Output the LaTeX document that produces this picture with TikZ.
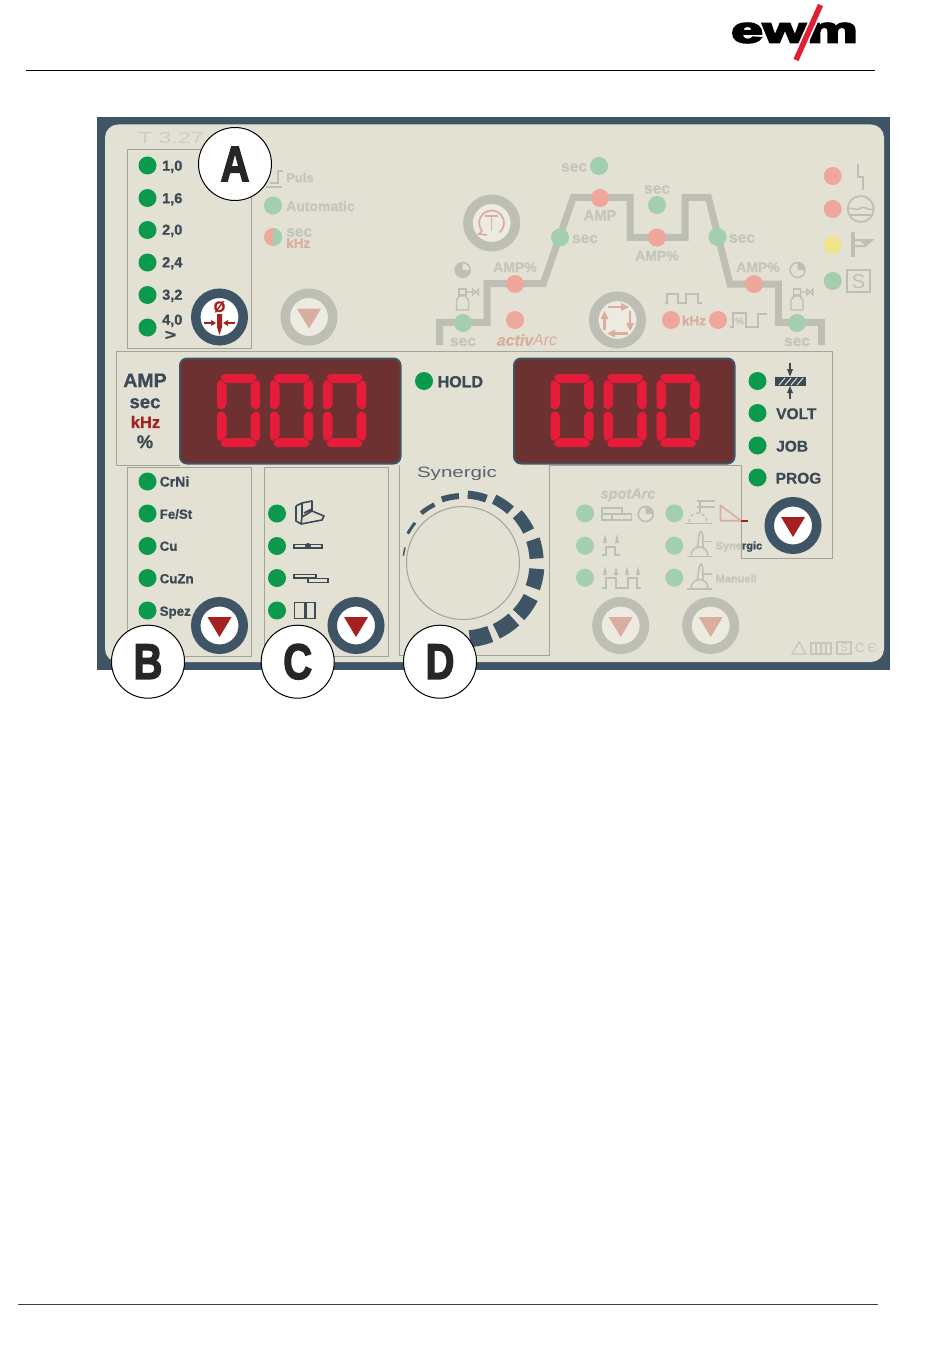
\documentclass[tikz,border=0pt]{standalone}
\usepackage{fontspec}
\setmainfont{Liberation Sans}[BoldFeatures={FakeBold=0.8},BoldItalicFeatures={FakeBold=0.5}]
\newfontfamily\heavy{Liberation Sans}[BoldFeatures={FakeBold=3}]
\newfontfamily\logofont{Liberation Sans}[BoldFeatures={FakeBold=5}]
\definecolor{slate}{HTML}{3F5565}
\definecolor{panel}{HTML}{E3E0D4}
\definecolor{boxl}{HTML}{A3A398}
\definecolor{ledg}{HTML}{0B9A4B}
\definecolor{fg}{HTML}{A3CFAE}
\definecolor{fr}{HTML}{EEA79A}
\definecolor{fy}{HTML}{EFE48C}
\definecolor{fd}{HTML}{BDBEB4}
\definecolor{ft}{HTML}{C4C5BB}
\definecolor{frt}{HTML}{D9AE9F}
\definecolor{btnf}{HTML}{EDEAE1}
\definecolor{ink}{HTML}{3C4A55}
\definecolor{dred}{HTML}{A5201E}
\definecolor{disp}{HTML}{6E3131}
\definecolor{segc}{HTML}{E51C3A}
\definecolor{logored}{HTML}{DF2034}
\newcounter{nd}
\newcommand\lab[6]{\stepcounter{nd}\node[anchor=#2,inner sep=0pt,text=#1,text height=#5*0.72pt,text depth=0pt,font=\bfseries\fontsize{#5}{#5}\selectfont] (t\arabic{nd}) at (#3,#4) {#6};}
\newcommand\led[3]{\stepcounter{nd}\node[circle,fill=#1,minimum size=18pt,inner sep=0pt] (l\arabic{nd}) at (#2,#3) {};}
\newcommand\btn[2]{\stepcounter{nd}\node[circle,draw=slate,line width=9.5pt,fill=white,minimum size=47.5pt,inner sep=0pt] (b\arabic{nd}) at (#1,#2) {};}
\newcommand\fbtn[2]{\stepcounter{nd}\node[circle,draw=fd,line width=9.5pt,fill=btnf,minimum size=47.5pt,inner sep=0pt] (b\arabic{nd}) at (#1,#2) {};}
\newcommand\tri[3]{\fill[#3] (#1-12,#2-8.5) -- (#1+12,#2-8.5) -- (#1,#2+11.5) -- cycle;}
\newcommand\callout[4]{\node[circle,draw=black,line width=1pt,fill=white,minimum size=73pt,inner sep=0pt,text=black!85,font=\heavy\bfseries\fontsize{50}{50}\selectfont] (#1) at (#2,#3) {\scalebox{0.8}[1]{#4}};}
\newcommand\digit[2]{\begin{scope}[shift={(#1,#2)},rounded corners=1.5pt]
\fill[segc] (6,0)--(37,0)--(40,3.5)--(35,9)--(8,9)--(3,3.5)--cycle;
\fill[segc] (6,73)--(37,73)--(40,69.5)--(35,64)--(8,64)--(3,69.5)--cycle;
\fill[segc] (0,8.5)--(3.5,5.5)--(9.5,10.5)--(9.5,31.5)--(5,36)--(0,33.5)--cycle;
\fill[segc] (0,39.5)--(5,37)--(9.5,41.5)--(9.5,62.5)--(3.5,67.5)--(0,64.5)--cycle;
\fill[segc] (43,8.5)--(39.5,5.5)--(33.5,10.5)--(33.5,31.5)--(38,36)--(43,33.5)--cycle;
\fill[segc] (43,39.5)--(38,37)--(33.5,41.5)--(33.5,62.5)--(39.5,67.5)--(43,64.5)--cycle;
\end{scope}}
\newcommand\bottle[2]{\begin{scope}[shift={(#1,#2)}]
\draw[fd,line width=1.4pt] (-6,0) -- (-6,-10) -- (-3,-14) -- (3,-14) -- (6,-10) -- (6,0) -- cycle;
\draw[fd,line width=1.8pt] (-3.5,-15) rectangle (3.5,-21);
\draw[fd,line width=1.3pt] (3.5,-18) -- (10,-18) (10,-21) -- (16,-15) -- (16,-21) -- (10,-15) -- cycle;
\end{scope}}
\newcommand\clockl[2]{\draw[fd,line width=1.5pt,fill=panel] (#1,#2) circle (7.5);\fill[fd] (#1,#2) -- (#1,#2-7.5) arc[start angle=270,end angle=-0,radius=7.5,delta angle=-270] -- cycle;}
\newcommand\clockr[2]{\draw[fd,line width=1.5pt,fill=panel] (#1,#2) circle (7.5);\fill[fd] (#1,#2) -- (#1+7.5,#2) arc[start angle=0,end angle=-90,radius=7.5] -- cycle;}
\newcommand\torch[2]{\begin{scope}[shift={(#1,#2)}]
\draw[fd,line width=1.8pt] (-1,0)--(24,0);
\draw[fd,line width=1.5pt] (3,-1) arc[start angle=180,end angle=360,radius=8.5];
\draw[fd,line width=1.5pt] (9,-8) .. controls (11,-16) and (10,-24) .. (13,-25) .. controls (15,-25) and (15,-18) .. (15,-8);
\draw[fd,line width=1.8pt] (15,-15)--(24,-15);
\end{scope}}
\begin{document}
\begin{tikzpicture}[x=1pt,y=-1pt,line join=miter]
\useasboundingbox (0,0) rectangle (950,1359);
\fill[white] (0,0) rectangle (950,1359);
% rules
\coordinate (hl) at (26,71); \coordinate (hr) at (875,71);
\coordinate (fl) at (18,1304.5); \coordinate (fr) at (878,1304.5);
\draw[black,line width=1pt] (hl) -- (hr);
\draw[black!75,line width=1.4pt] (fl) -- (fr);
% logo
\node[inner sep=0pt,text=black,font=\logofont\bfseries\fontsize{36}{36}\selectfont] (logo) at (794.5,33) {\scalebox{1.58}[1]{ewm}};
\draw[white,line width=9pt] (820.5,5) -- (796,60);
\draw[logored,line width=5.5pt] (820.5,5) -- (796,60);
% panel
\fill[slate] (97,117) rectangle (890,670);
\fill[panel,rounded corners=13pt] (105,124.5) rectangle (884,662);
\stepcounter{nd}\node[inner sep=0pt,text=ft!70!panel,font=\fontsize{16}{16}\selectfont] (model) at (171,137.5) {\scalebox{1.45}[1]{T 3.27}};
% group boxes
\begin{scope}[boxl,line width=0.9pt]
\draw (127.5,149) rectangle (251.5,348);
\draw (127.5,467) rectangle (251.5,656.5);
\draw (264,467) rectangle (388.5,656.5);
\draw (399,465) -- (399,655.5) -- (549.5,655.5) -- (549.5,465) -- (741,465) -- (741,558) -- (832.5,558) -- (832.5,351) -- (116,351) -- (116,465) -- (180,465);
\end{scope}
% displays
\draw[slate,line width=2pt,fill=disp,rounded corners=7pt] (180,358.5) rectangle (400.5,463.5);
\draw[slate,line width=2pt,fill=disp,rounded corners=7pt] (514,358.5) rectangle (734.5,463.5);
\digit{217}{374}\digit{270}{374}\digit{323}{374}
\digit{550.5}{374}\digit{603.5}{374}\digit{656.5}{374}
% A column
\led{ledg}{147.5}{165.5}\lab{ink}{west}{162}{165.5}{14.5}{1,0}
\led{ledg}{147.5}{198}\lab{ink}{west}{162}{198}{14.5}{1,6}
\led{ledg}{147.5}{230}\lab{ink}{west}{162}{229.5}{14.5}{2,0}
\led{ledg}{147.5}{262.5}\lab{ink}{west}{162}{262}{14.5}{2,4}
\led{ledg}{147.5}{295}\lab{ink}{west}{162}{294.5}{14.5}{3,2}
\led{ledg}{147.5}{327.5}\lab{ink}{west}{162}{319.5}{14.5}{4,0}
\lab{ink}{west}{164.5}{334.5}{15}{\scalebox{1.3}[1]{>}}
\btn{219.5}{317}
\lab{dred}{center}{219.5}{306.5}{15}{Ø}
\fill[dred] (217,314) -- (222,314) -- (222,327) -- (219.5,335) -- (217,327) -- cycle;
\draw[dred,line width=1.3pt] (204,323) -- (213,323) (226,323) -- (235,323);
\fill[dred] (216,323) -- (211,320) -- (211,326) -- cycle;
\fill[dred] (223,323) -- (228,320) -- (228,326) -- cycle;
% faded left column
\draw[fd,line width=1.4pt] (270,183) -- (278,183) -- (278,171) -- (283,171);
\draw[fd,line width=1.4pt] (266,187) -- (282,187);
\lab{ft}{west}{286}{177.5}{13}{Puls}
\led{fg}{273}{205.5}\lab{ft}{west}{286}{206}{14}{Automatic}
\led{fr}{273}{237}\fill[fg] (273,228) arc[start angle=-90,end angle=90,radius=9] -- cycle;
\lab{ft}{west}{286}{231}{15.5}{sec}\lab{frt}{west}{286}{243}{13.5}{kHz}
\fbtn{309}{317}\tri{309}{317}{frt}
% process curve
\draw[fd,line width=7pt] (439.5,345) -- (439.5,322.3) -- (487,322.3) -- (487,283.5) -- (543.3,283.5) -- (573.3,197.3) -- (630,197.3) -- (630,237.3) -- (685,237.3) -- (685,197.3) -- (708.3,197.3) -- (730,284) -- (778.3,284) -- (778.3,322.3) -- (821.7,322.3) -- (821.7,345);
\led{fg}{599}{166}\lab{ft}{center}{574}{166}{15.5}{sec}
\led{fr}{600}{198}\lab{ft}{center}{600}{215}{14.7}{AMP}
\led{fg}{657}{205}\lab{ft}{center}{657}{188}{15.5}{sec}
\led{fr}{657}{237.5}\lab{ft}{center}{657}{255.5}{14}{AMP\%}
\led{fg}{560}{237.5}\lab{ft}{center}{585}{237.5}{15.5}{sec}
\led{fg}{717.5}{237}\lab{ft}{center}{742}{237}{15.5}{sec}
\led{fr}{515}{284}\lab{ft}{center}{515}{267}{14}{AMP\%}
\led{fr}{754}{284}\lab{ft}{center}{758}{267}{14}{AMP\%}
\led{fg}{463}{323}\lab{ft}{center}{463}{340.5}{15.5}{sec}
\led{fg}{797}{323}\lab{ft}{center}{797}{340.5}{15.5}{sec}
\led{fr}{515}{320}
\stepcounter{nd}\node[inner sep=0pt,text=frt,font=\itshape\fontsize{16}{16}\selectfont] (activ) at (527,340) {\textbf{activ}Arc};
\led{fr}{671}{320}\lab{frt}{center}{694}{320.5}{13.5}{kHz}
\led{fr}{718}{320}
% clocks and bottles
\clockl{462.7}{270}\clockr{797.5}{270}
\bottle{462.5}{310}\bottle{797}{310}
% T button
\fbtn{491.7}{223}
\draw[frt,line width=1.7pt] (482,231) arc[start angle=140,delta angle=270,radius=12.5];
\draw[frt,line width=1.7pt] (482,231) -- (479,234) -- (487,235);
\draw[frt,line width=1.7pt] (485,216) -- (498,216) (491.5,216) -- (491.5,231);
% cycle button
\fbtn{617.5}{320}
\begin{scope}[frt,line width=2.6pt]
\draw (608,307) -- (622,307); \fill (629,307) -- (621,303) -- (621,311) -- cycle;
\draw (630,311) -- (630,324); \fill (630,331) -- (626,323) -- (634,323) -- cycle;
\draw (628,333.5) -- (614,333.5); \fill (607,333.5) -- (615,329.5) -- (615,337.5) -- cycle;
\draw (604.5,330) -- (604.5,318); \fill (604.5,311) -- (600.5,319) -- (608.5,319) -- cycle;
\end{scope}
% pulse icons
\draw[fd,line width=1.7pt] (665,303) -- (667,303) -- (667,294) -- (678,294) -- (678,303) -- (686,303) -- (686,294) -- (698,294) -- (698,303) -- (702,303);
\draw[fd,line width=1.7pt] (730,327) -- (733,327) -- (733,313) -- (746,313) -- (746,327) -- (758,327) -- (758,314) -- (767,314);
\lab{ft}{center}{739.5}{321}{10}{\%}
% top right
\led{fr}{832.7}{176}\led{fr}{832.7}{209}\led{fy}{832.7}{245}\led{fg}{832.7}{281}
\draw[fd,line width=1.7pt] (858,164) -- (858,177) -- (863,177) -- (863,190);
\draw[fd,line width=1.7pt] (860.7,209) circle (13);
\draw[fd,line width=1.5pt] (848,209) .. controls (852,206) and (855,212) .. (860.7,208) .. controls (865,205) and (869,212) .. (873.5,209);
\draw[fd,line width=1.5pt] (850,215) -- (871,215);
\draw[fd,line width=4.5pt] (853,232) -- (853,257);
\draw[fd,line width=2pt] (853,240) -- (872,240) -- (865,246) -- (855,246);
\fill[fd] (860,241) -- (870,241) -- (865,245) -- cycle;
\draw[fd,line width=1.3pt] (847,270) rectangle (870,292);
\lab{fd}{center}{858.5}{281}{20}{\mdseries S}
% left unit labels
\lab{ink}{center}{145}{380}{19.5}{AMP}
\lab{ink}{center}{145}{401.5}{18.5}{sec}
\lab{dred}{center}{145.5}{422}{16.5}{kHz}
\lab{ink}{center}{145}{441.5}{18.5}{\%}
% HOLD & right labels
\led{ledg}{424}{381}\lab{ink}{west}{437.5}{381.5}{16}{HOLD}
\led{ledg}{757.5}{381}
\led{ledg}{757.5}{413}\lab{ink}{west}{776}{413.5}{15.5}{VOLT}
\led{ledg}{757.5}{445.5}\lab{ink}{west}{776}{446}{15.5}{JOB}
\led{ledg}{757.5}{477.5}\lab{ink}{west}{775.5}{478}{15.5}{PROG}
\fill[ink] (775,377) rectangle (806,386);
\foreach \q in {779,785,791,797}{\draw[panel,line width=1pt] (\q,385) -- (\q+6,378);}
\draw[ink,line width=1.2pt] (790,363) -- (790,375) (790,388) -- (790,399);
\fill[ink] (790,376.5) -- (787,369) -- (793,369) -- cycle;
\fill[ink] (790,386) -- (787,393) -- (793,393) -- cycle;
\btn{793}{525.5}\tri{793}{525.5}{dred}
% material
\led{ledg}{147.5}{481.5}\lab{ink}{west}{159.5}{481.5}{14}{CrNi}
\led{ledg}{147.5}{513.5}\lab{ink}{west}{159.5}{514}{13.3}{Fe/St}
\led{ledg}{147.5}{546}\lab{ink}{west}{159.5}{546}{13.3}{Cu}
\led{ledg}{147.5}{578}\lab{ink}{west}{159.5}{578.5}{13.3}{CuZn}
\led{ledg}{147.5}{610.5}\lab{ink}{west}{159.5}{611}{13.3}{Spez}
\btn{219.5}{625.5}\tri{219.5}{625.5}{dred}
% joint
\led{ledg}{277}{513.5}\led{ledg}{277}{546}\led{ledg}{277}{578}\led{ledg}{277}{610.5}
\btn{356}{625.5}\tri{356}{625.5}{dred}
\draw[ink,line width=1.6pt,line join=round] (302,503) -- (312,501) -- (312,511) (296,506) -- (302,503) -- (302,517) (296,506) -- (296,521) -- (301,524) -- (322,520) -- (324,516) -- (312,511) -- (302,517) -- (301,524) (304,513) -- (312,509);
\draw[ink,line width=1.1pt,fill=panel] (294,544.5) rectangle (322,548);
\fill[ink] (308,546) circle (3);
\draw[ink,line width=1.1pt,fill=panel] (294,574.5) rectangle (316,578);
\draw[ink,line width=1.1pt,fill=panel] (308,578.5) rectangle (328,582.5);
\draw[ink,line width=1.3pt,fill=panel] (294.5,602.5) rectangle (315,618.5);
\draw[ink,line width=3pt] (305,602) -- (305,619);
% knob
\lab{ink!85}{center}{457}{472}{15}{\mdseries\scalebox{1.37}[1]{Synergic}}
\draw[boxl,line width=1pt] (463,563) circle (56.5);
\begin{scope}[shift={(463,563)}]
\foreach \a/\cr/\th/\s in {169/60/1.5/4,146/62.5/3/6,123/65/4.5/7,101/67/6/7.5,78/68.5/8/8,56/71/10/8,34/73/12/8,11/73.7/14/7.5,-12/74/15/7.5,-35/76/15.5/8,-56/76/16/8,-77/76/17/8}{
\pgfmathsetmacro\ca{\cr-\th/2}\pgfmathsetmacro\cb{\cr+\th/2}
\pgfmathsetmacro\aa{\a-\s}\pgfmathsetmacro\ab{\a+\s}
\fill[slate] plot[domain=\aa:\ab,samples=6] ({-\x}:\cb) -- plot[domain=\ab:\aa,samples=6] ({-\x}:\ca) -- cycle;}
\end{scope}
% lower faded group
\stepcounter{nd}\node[inner sep=0pt,text=ft,font=\bfseries\itshape\fontsize{14.5}{14.5}\selectfont] (spot) at (628,495) {spotArc};
\led{fg}{585}{513.3}\led{fg}{585}{545.7}\led{fg}{585}{577.7}
\led{fg}{674.3}{513.3}\led{fg}{674.3}{545.7}\led{fg}{674.3}{577.7}
\draw[fd,line width=1.8pt] (602,508) rectangle (622,514) (612,514) rectangle (631.5,520) (602,514) -- (602,520) -- (612,520);
\draw[fd,line width=1.7pt] (645.7,514) circle (7.5);\fill[fd] (645.7,514) -- (653.2,514) arc[start angle=0,end angle=-90,radius=7.5] -- cycle;
\draw[fd,line width=2pt] (602,555) -- (606,555) -- (606,546.5) -- (615,546.5) -- (615,555) -- (620,555);
\fill[fd] (603,543) -- (607,543) -- (605,534) -- cycle;\fill[fd] (615,543) -- (619,543) -- (617,534) -- cycle;
\draw[fd,line width=2pt] (602,587.5) -- (606,587.5) -- (606,578) -- (616,578) -- (616,587.5) -- (628,587.5) -- (628,578) -- (637,578) -- (637,587.5) -- (641,587.5);
\foreach \q in {605,616,627,638}{\fill[fd] (\q-2,575) -- (\q+2,575) -- (\q,566) -- cycle;}
% torch icons
\draw[fd,line width=1.8pt] (685,523.5) -- (712,523.5);
\draw[fd,line width=1.4pt,dashed] (689,522) arc[start angle=180,end angle=360,radius=9];
\draw[fd,line width=2pt] (697,501) -- (715,501) (697,507) -- (715,507) (700,501) -- (700,513);
\draw[frt,line width=1.6pt] (720.5,505.5) -- (720.5,520.7) -- (741,520.7) -- cycle;
\draw[dred,line width=1.8pt] (741,520.7) -- (748,520.7);
\torch{688}{556.5}\torch{688}{589}
\lab{ft}{west}{715.5}{545.5}{11}{Syne\textcolor{ink}{rgic}}
\lab{ft}{west}{715.5}{578.5}{11}{Manuell}
\fbtn{620.7}{625.5}\tri{620.7}{625.5}{frt}
\fbtn{710.7}{625.5}\tri{710.7}{625.5}{frt}
% conformity marks
\draw[ft,line width=1.2pt] (792,654) -- (799,642) -- (806,654) -- cycle;
\draw[ft,line width=1.2pt] (811,643) rectangle (831,654) (816,643) -- (816,654) (821,643) -- (821,654) (826,643) -- (826,654);
\draw[ft,line width=1.2pt] (837,642) rectangle (851,654);
\lab{ft}{center}{844}{648}{11}{\mdseries S}
\lab{ft}{center}{866}{648}{13}{\mdseries C\hspace{3pt}Є}
% callouts
\callout{A}{235}{164}{A}
\callout{B}{148}{661.7}{B}
\callout{C}{297.7}{661.7}{C}
\callout{D}{440}{661.7}{D}
\end{tikzpicture}
\end{document}
